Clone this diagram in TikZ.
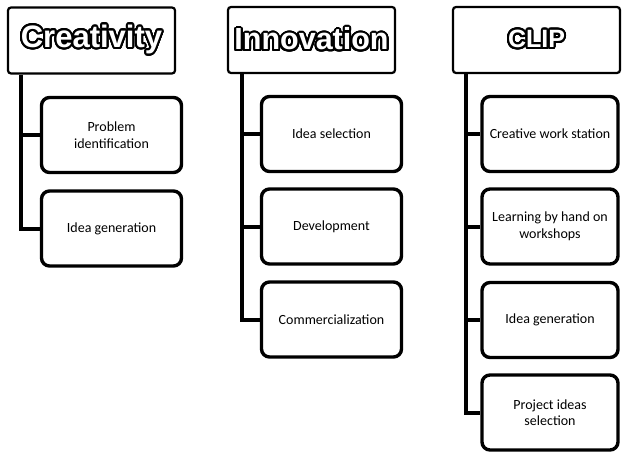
\documentclass[tikz,border=0pt]{standalone}
\usepackage{fontspec}
\setmainfont{Carlito}
\newfontfamily\headfont{Liberation Sans}
\usepackage{contour}
\contourlength{2pt}
\contournumber{32}

\tikzset{
	headbox/.style={draw, line width=2.2pt, rounded corners=3pt, minimum width=167pt, minimum height=66pt, inner sep=0pt},
	itembox/.style={draw, line width=3.4pt, rounded corners=8pt, minimum width=140pt, minimum height=75pt, inner sep=2pt, align=center, font=\fontsize{14}{16.5}\selectfont},
	trunk/.style={line width=4pt},
}
% outlined title lettering
\newcommand{\headtext}[2]{{\headfont\bfseries\fontsize{#1}{#1}\selectfont\contour{black}{\textcolor{white}{#2}}}}

\begin{document}
\begin{tikzpicture}[x=1pt, y=-1pt]
	\useasboundingbox (0,0) rectangle (622,452);

	% Creativity
	\node[headbox] (crea) at (91.5,40.5) {\headtext{31}{Creativity}};
	\node[itembox] (crea-1) at (111.5,135) {Problem\\identification};
	\node[itembox] (crea-2) at (111.5,228.5) {Idea generation};

	% Innovation
	\node[headbox] (inno) at (311.5,40) {\headtext{30.5}{Innovation}};
	\node[itembox] (inno-1) at (331.5,134) {Idea selection};
	\node[itembox] (inno-2) at (331.5,226.5) {Development};
	\node[itembox] (inno-3) at (331.5,319.5) {Commercialization};

	% CLIP
	\node[headbox] (clip) at (536.5,40) {\headtext{25}{CLIP}};
	\node[itembox, minimum width=136pt] (clip-1) at (550,134) {Creative work station};
	\node[itembox, minimum width=136pt] (clip-2) at (550,226.5) {Learning by hand on\\workshops};
	\node[itembox, minimum width=136pt] (clip-3) at (550,320) {Idea generation};
	\node[itembox, minimum width=136pt] (clip-4) at (550,412.5) {Project ideas\\selection};

	% trunks and branches
	\draw[trunk] ([xshift=14pt]crea.south west) |- (crea-2.west);
	\draw[trunk] ([xshift=14pt]crea.south west |- crea-1.west) -- (crea-1.west);

	\draw[trunk] ([xshift=15pt]inno.south west) |- (inno-3.west);
	\foreach \i in {1,2}
		\draw[trunk] ([xshift=15pt]inno.south west |- inno-\i.west) -- (inno-\i.west);

	\draw[trunk] ([xshift=14pt]clip.south west) |- (clip-4.west);
	\foreach \i in {1,2,3}
		\draw[trunk] ([xshift=14pt]clip.south west |- clip-\i.west) -- (clip-\i.west);
\end{tikzpicture}
\end{document}
